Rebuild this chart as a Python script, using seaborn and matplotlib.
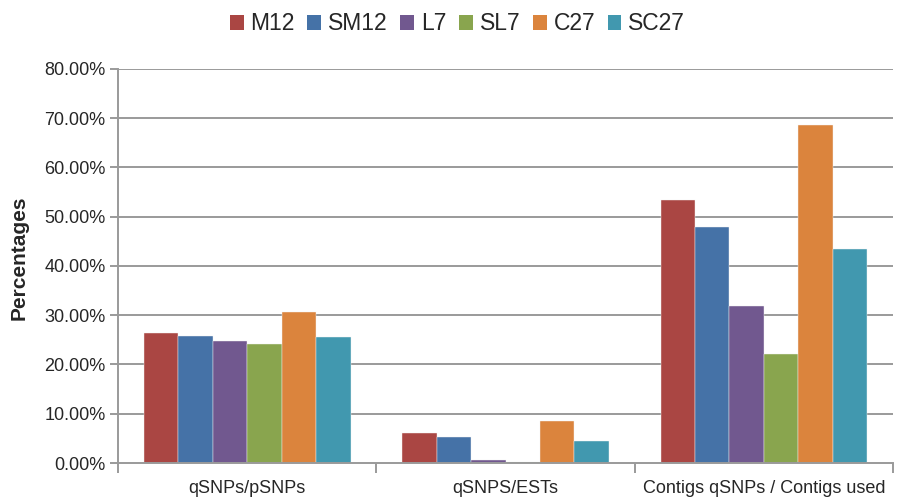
import matplotlib
matplotlib.use("Agg")
import matplotlib.pyplot as plt
from matplotlib.patches import Patch
from matplotlib.ticker import FixedLocator, FuncFormatter
import seaborn as sns
import pandas as pd

categories = ["qSNPs/pSNPs", "qSNPS/ESTs", "Contigs qSNPs / Contigs used"]
series = ["M12", "SM12", "L7", "SL7", "C27", "SC27"]
colors = ["#AA4643", "#4572A7", "#71588F", "#89A54E", "#DB843D", "#4198AF"]

m12 = [26.3, 6.0, 53.5]
sm12 = [25.8, 5.3, 47.9]
l7 = [24.8, 0.55, 31.9]
sl7 = [24.1, 0.3, 22.1]
c27 = [30.7, 8.6, 68.6]
sc27 = [25.6, 4.4, 43.4]

y_ticks = [0, 10, 20, 30, 40, 50, 60, 70, 80]

values = [m12, sm12, l7, sl7, c27, sc27]
rows = []
for name, vals in zip(series, values):
    for cat, v in zip(categories, vals):
        rows.append({"Category": cat, "Series": name, "Value": v})
df = pd.DataFrame(rows)

sns.set_theme(style="white")
plt.rcParams["font.family"] = ["Liberation Sans", "DejaVu Sans"]

fig = plt.figure(figsize=(9.15, 4.97), dpi=100)
ax = fig.add_axes([0.129, 0.0684, 0.847, 0.7928])

grid_color = "#9a9a9a"
for t in y_ticks[1:]:
    ax.axhline(t, color=grid_color, linewidth=1.4, zorder=0)

sns.barplot(data=df, x="Category", y="Value", hue="Series", order=categories,
            hue_order=series, palette=colors, width=0.8, gap=0,
            edgecolor="#f4f4f4", linewidth=0.3, saturation=1, ax=ax, legend=False,
            zorder=2)

ax.set_xlim(-0.5, 2.5)
ax.set_ylim(0, 80)
ax.yaxis.set_major_locator(FixedLocator(y_ticks))
ax.yaxis.set_major_formatter(FuncFormatter(lambda v, p: f"{v:.2f}%"))

# category boundaries carry the tick marks; labels sit between them
ax.set_xticks([-0.5, 0.5, 1.5, 2.5])
ax.set_xticklabels([])
ax.set_xticks([0, 1, 2], minor=True)
ax.set_xticklabels(categories, minor=True, fontsize=13)
ax.tick_params(axis="x", which="major", length=7, width=1.4, color=grid_color,
               direction="out", bottom=True)
ax.tick_params(axis="x", which="minor", length=0, pad=12)
ax.tick_params(axis="y", length=6, width=1.4, color=grid_color, direction="out",
               left=True, labelsize=13, pad=3)

for side in ["top", "right"]:
    ax.spines[side].set_visible(False)
for side in ["left", "bottom"]:
    ax.spines[side].set_color(grid_color)
    ax.spines[side].set_linewidth(1.4)

ax.set_xlabel("")
ax.set_ylabel("Percentages", fontsize=15, fontweight="bold")
ax.yaxis.set_label_coords(-0.116, 0.52)

handles = [Patch(facecolor=c, edgecolor="none") for c in colors]
fig.legend(handles, series, loc="center", bbox_to_anchor=(0.5, 0.952), ncol=6,
           frameon=False, fontsize=16.5, handlelength=0.6, handleheight=0.6,
           handletextpad=0.3, columnspacing=0.55)

fig.savefig("out.png", dpi=100)
